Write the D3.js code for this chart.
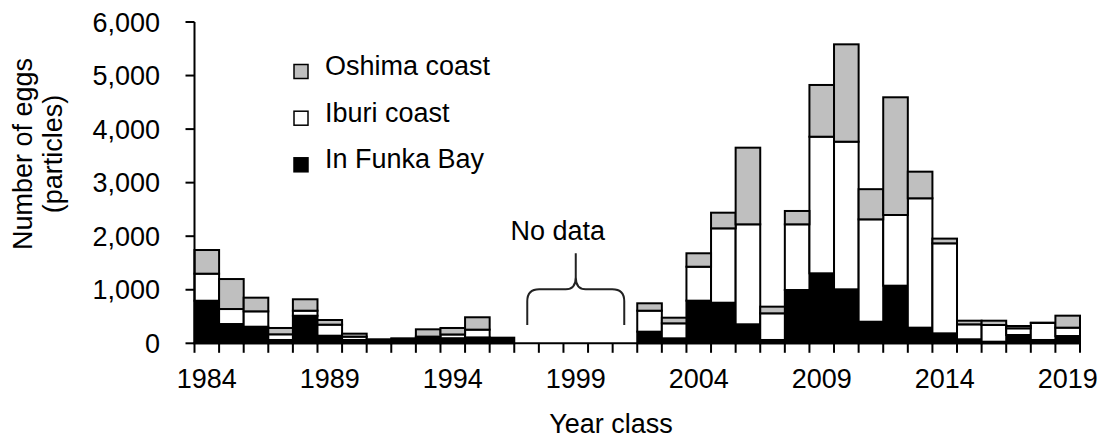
<!DOCTYPE html>
<html>
<head>
<meta charset="utf-8">
<script src="https://cdn.jsdelivr.net/npm/d3@7"></script>
<style>
  html, body { margin: 0; padding: 0; background: #fff; }
  svg text { font-family: "Liberation Sans", Arial, sans-serif; fill: #000; }
</style>
</head>
<body>
<svg id="chart" width="1107" height="441"></svg>
<script>
// Year classes 1984–2019; 1997–2001 have no survey data (null)
const years = d3.range(1984, 2020);

// Egg counts (particles) per area, stacked bottom to top
const funkaBay = [795, 360, 310, 62, 515, 142, 62, 45, 55, 105, 95, 110, 105,
  null, null, null, null, null,
  217, 93, 796, 758, 355, 62, 995, 1307, 1008, 403, 1076, 292, 186, 75, 30, 155, 62, 136];
const iburiCoast = [505, 280, 287, 106, 94, 206, 62, 10, 15, 20, 70, 145, 0,
  null, null, null, null, null,
  392, 280, 634, 1389, 1867, 498, 1227, 2551, 2757, 1912, 1320, 2416, 1681, 279, 312, 125, 318, 156];
const oshimaCoast = [442, 560, 255, 118, 213, 87, 56, 20, 23, 136, 121, 231, 0,
  null, null, null, null, null,
  138, 105, 251, 292, 1431, 124, 249, 966, 1818, 563, 2198, 497, 88, 68, 80, 43, 5, 224];

const seriesNames = ["In Funka Bay", "Iburi coast", "Oshima coast"];
const seriesFills = ["#000000", "#ffffff", "#bfbfbf"];
const yTicks = [0, 1000, 2000, 3000, 4000, 5000, 6000];
const xLabelYears = [1984, 1989, 1994, 1999, 2004, 2009, 2014, 2019];

const svg = d3.select("#chart");
const plotLeft = 194.5, plotRight = 1080, plotTop = 22, plotBottom = 343.3;

const x = d3.scaleBand().domain(years).range([plotLeft, plotRight]).padding(0);
const y = d3.scaleLinear().domain([0, 6000]).range([plotBottom, plotTop]);

// Stacked data
const rows = years.map((yr, i) => ({
  year: yr, f: funkaBay[i], ib: iburiCoast[i], o: oshimaCoast[i]
})).filter(d => d.f !== null);
const stack = d3.stack().keys(["f", "ib", "o"]);
const layers = stack(rows);

const gBars = svg.append("g");
layers.forEach((layer, li) => {
  gBars.append("g")
    .selectAll("rect")
    .data(layer.filter(d => d[1] - d[0] > 0))
    .join("rect")
    .attr("x", d => x(d.data.year))
    .attr("width", x.bandwidth())
    .attr("y", d => y(d[1]))
    .attr("height", d => y(d[0]) - y(d[1]))
    .attr("fill", seriesFills[li])
    .attr("stroke", "#000")
    .attr("stroke-width", 2);
});

// Y axis
const yAxis = svg.append("g");
yAxis.append("line")
  .attr("x1", plotLeft).attr("x2", plotLeft)
  .attr("y1", y(6000)).attr("y2", y(0))
  .attr("stroke", "#000").attr("stroke-width", 2);
yAxis.selectAll("line.tick").data(yTicks).join("line")
  .attr("class", "tick")
  .attr("x1", plotLeft - 9).attr("x2", plotLeft)
  .attr("y1", d => y(d)).attr("y2", d => y(d))
  .attr("stroke", "#000").attr("stroke-width", 2);
yAxis.selectAll("text").data(yTicks).join("text")
  .attr("x", 160).attr("y", d => y(d)).attr("dy", "0.36em")
  .attr("text-anchor", "end")
  .style("font-size", "27px")
  .text(d3.format(","));

// X axis with tick marks at category boundaries
const xAxis = svg.append("g");
xAxis.append("line")
  .attr("x1", plotLeft - 1).attr("x2", plotRight)
  .attr("y1", plotBottom).attr("y2", plotBottom)
  .attr("stroke", "#000").attr("stroke-width", 2);
const boundaries = years.map(yr => x(yr)).concat([plotRight]);
xAxis.selectAll("line.tick").data(boundaries).join("line")
  .attr("class", "tick")
  .attr("x1", d => d).attr("x2", d => d)
  .attr("y1", plotBottom).attr("y2", plotBottom + 9.5)
  .attr("stroke", "#000").attr("stroke-width", 2);
xAxis.selectAll("text").data(xLabelYears).join("text")
  .attr("x", d => x(d) + x.bandwidth() / 2)
  .attr("y", 388.3)
  .attr("text-anchor", "middle")
  .style("font-size", "27px")
  .text(d => d);

// Axis titles
svg.append("text")
  .attr("transform", "translate(31.7,154) rotate(-90)")
  .attr("text-anchor", "middle").style("font-size", "27px")
  .text("Number of eggs");
svg.append("text")
  .attr("transform", "translate(61.7,154) rotate(-90)")
  .attr("text-anchor", "middle").style("font-size", "27px")
  .text("(particles)");
svg.append("text")
  .attr("x", 611).attr("y", 432.7)
  .attr("text-anchor", "middle").style("font-size", "27px")
  .text("Year class");

// Legend (top to bottom: Oshima, Iburi, Funka)
const legendRows = [2, 1, 0];
const legendBase = [75, 121.7, 168.3];
const legend = svg.append("g");
legendRows.forEach((si, k) => {
  legend.append("rect")
    .attr("x", 294).attr("y", legendBase[k] - 10.5)
    .attr("width", 14).attr("height", 14)
    .attr("fill", seriesFills[si])
    .attr("stroke", "#000").attr("stroke-width", 1.5);
  legend.append("text")
    .attr("x", 325).attr("y", legendBase[k])
    .style("font-size", "27px")
    .text(seriesNames[si]);
});

// "No data" note with a curly brace over the missing years
const gapStart = x(1997) + 13, gapEnd = x(2001) + x.bandwidth() - 13;
const mid = (gapStart + gapEnd) / 2;
const braceY = 289.3, braceBottom = 325, braceTip = 253.3;
svg.append("path")
  .attr("d", `M${gapStart},${braceBottom} V${braceY + 12} Q${gapStart},${braceY} ${gapStart + 12},${braceY}
              H${mid - 10} Q${mid},${braceY} ${mid},${braceY - 12} V${braceTip}
              M${mid},${braceY - 12} Q${mid},${braceY} ${mid + 10},${braceY}
              H${gapEnd - 12} Q${gapEnd},${braceY} ${gapEnd},${braceY + 12} V${braceBottom}`)
  .attr("fill", "none").attr("stroke", "#222").attr("stroke-width", 2);
svg.append("text")
  .attr("x", 557.7).attr("y", 240)
  .attr("text-anchor", "middle").style("font-size", "27px")
  .text("No data");
</script>
</body>
</html>
